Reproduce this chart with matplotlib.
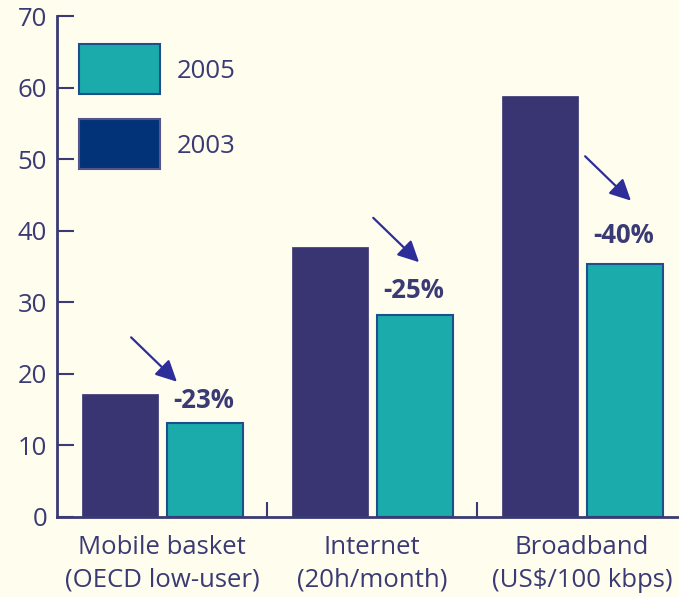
import matplotlib
matplotlib.use("Agg")
import matplotlib.pyplot as plt
from matplotlib.patches import Rectangle
import numpy as np

categories = ["Mobile basket\n(OECD low-user)", "Internet\n(20h/month)", "Broadband\n(US$/100 kbps)"]
values_2003 = [17.2, 37.7, 58.8]
values_2005 = [13.1, 28.2, 35.3]
changes = ["-23%", "-25%", "-40%"]
yticks = [0, 10, 20, 30, 40, 50, 60, 70]
series_labels = ["2005", "2003"]

BG = "#FFFDEE"
TXT = "#3A3A75"
C2003 = "#393572"
C2005 = "#1AABAA"
EDGE05 = "#1E4F8C"
LEG2003 = "#023378"
ARROW = "#2E2E9A"

plt.rcParams['font.family'] = ['Open Sans', 'DejaVu Sans']

fig = plt.figure(figsize=(6.79, 5.97), dpi=100, facecolor=BG)
ax = fig.add_axes([57/679, 80/597, 1 - 57/679, 501/597], facecolor=BG)

x = np.arange(len(categories))
w = 0.36
ax.bar(x - 0.2, values_2003, w, color=C2003, edgecolor=C2003, linewidth=0.5, zorder=2)
ax.bar(x + 0.205, values_2005, w, color=C2005, edgecolor=EDGE05, linewidth=1.5, zorder=2)

ax.set_xlim(-0.5, 2.462)
ax.set_ylim(0, 70)
ax.set_yticks(yticks)
ax.set_yticklabels([str(v) for v in yticks], fontsize=18.5, color=TXT)
ax.tick_params(axis='y', direction='in', length=12, width=1.5, color=TXT, pad=7)

ax.set_xticks(x)
ax.set_xticklabels(categories, fontsize=18.5, color=TXT, linespacing=1.4)
ax.tick_params(axis='x', which='major', length=0, pad=13)
ax.set_xticks([0.5, 1.5], minor=True)
ax.tick_params(axis='x', which='minor', direction='in', length=11, width=1.5, color=TXT)

for s in ['top', 'right']:
    ax.spines[s].set_visible(False)
for s in ['left', 'bottom']:
    ax.spines[s].set_color(TXT)
    ax.spines[s].set_linewidth(2)

arrow_dx = [0.071, 0.224, 0.233]
arrow_dy = [5.8, 7.4, 8.9]
text_dy = [3.2, 3.5, 4.1]
for i, (v, lab) in enumerate(zip(values_2005, changes)):
    tip = (i + arrow_dx[i], v + arrow_dy[i])
    tail = (tip[0] - 0.218, tip[1] + 6.2)
    ax.annotate("", xy=tip, xytext=tail,
                arrowprops=dict(arrowstyle='-|>', color=ARROW, lw=1.6, mutation_scale=32,
                                shrinkA=0, shrinkB=0))
    ax.text(i + 0.2, v + text_dy[i], lab, ha='center', va='center', fontsize=18.5,
            fontweight='bold', color=TXT)

# legend drawn as boxes in axes coordinates
leg_faces = [C2005, LEG2003]
leg_edges = [EDGE05, "#55558A"]
leg_bottoms = [0.8443, 0.6946]
for lab, fc, ec, yb in zip(series_labels, leg_faces, leg_edges, leg_bottoms):
    ax.add_patch(Rectangle((0.0354, yb), 0.130, 0.0998, transform=ax.transAxes,
                           facecolor=fc, edgecolor=ec, linewidth=1.5, zorder=3, clip_on=False))
    ax.text(0.193, yb + 0.0499 - 0.004, lab, transform=ax.transAxes, ha='left', va='center',
            fontsize=18.5, color=TXT)

fig.savefig("out.png", dpi=100, facecolor=BG)
